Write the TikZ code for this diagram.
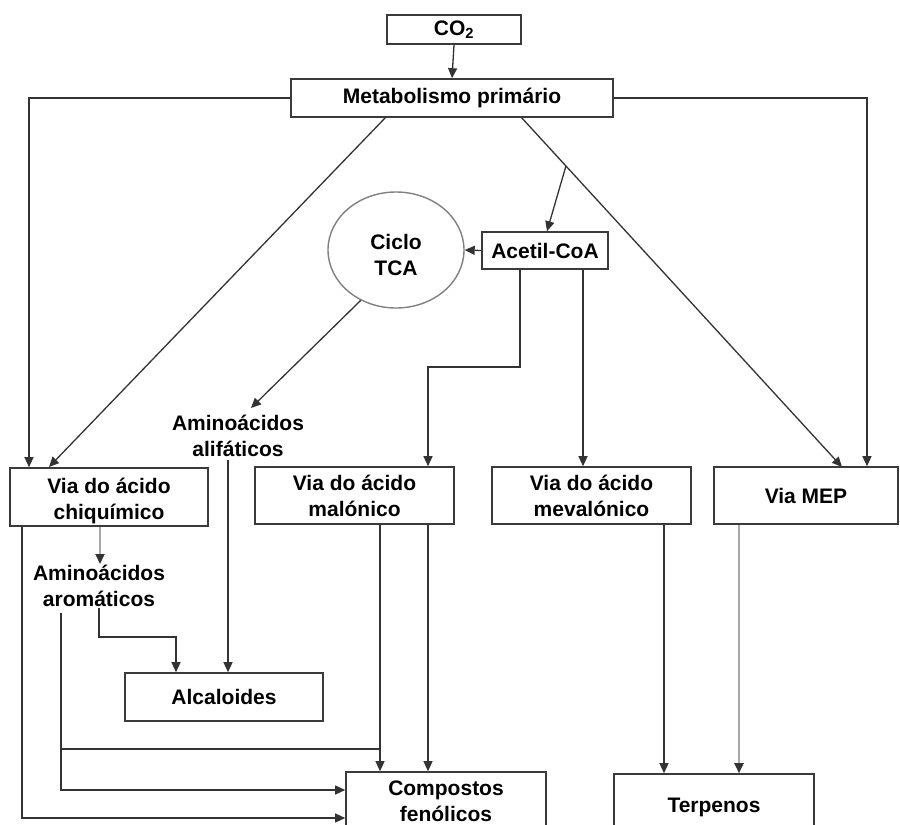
\documentclass[tikz,border=0pt]{standalone}
\usepackage{fontspec}
\setmainfont{Liberation Sans}
\usetikzlibrary{arrows.meta,calc,shapes.geometric}
\definecolor{linec}{HTML}{333333}
\definecolor{boxc}{HTML}{3A3A3A}
\definecolor{greyc}{HTML}{A8A8A8}
\newcommand\dgfont{\fontsize{21}{26}\selectfont\bfseries}
\begin{document}
\begin{tikzpicture}[x=1pt,y=-1pt,
  ln/.style={draw=linec, line width=1.3pt},
  arr/.style={ln, -{Triangle[length=10pt,width=9pt]}},
  garr/.style={draw=greyc, line width=2pt, -{Triangle[length=10pt,width=9pt,color=linec]}},
  box/.style={draw=boxc, line width=1.6pt, fill=white, inner sep=0pt, align=center, font=\dgfont},
  txt/.style={inner sep=0pt, align=center, font=\dgfont}]
\clip (0,0) rectangle (900,825);
\fill[white] (0,0) rectangle (900,825);
% nodes
\node[box, minimum width=134pt, minimum height=29pt] (co2) at (454,29.5) {CO\textsubscript{2}};
\node[box, minimum width=322pt, minimum height=38pt] (met) at (452,98) {Metabolismo primário};
\node[box, minimum width=126pt, minimum height=37pt] (acetil) at (545,250.5) {Acetil-CoA};
\node[ellipse, draw=gray, line width=1.4pt, minimum width=136pt, minimum height=116pt, inner sep=0pt] (tca) at (396,250) {};
\node[txt] (tcat) at (396,255) {Ciclo\\TCA};
\node[box, minimum width=198pt, minimum height=58pt] (chiq) at (109,497) {};
\node[txt] (chiqt) at (109,501) {Via do ácido\\chiquímico};
\node[box, minimum width=199pt, minimum height=57pt] (malo) at (354.5,495.5) {Via do ácido\\malónico};
\node[box, minimum width=199pt, minimum height=57pt] (meva) at (591.5,495.5) {Via do ácido\\mevalónico};
\node[box, minimum width=184pt, minimum height=57pt] (mep) at (806,495.5) {Via MEP};
\node[txt] (alif) at (238,436) {Aminoácidos\\alifáticos};
\node[txt] (arom) at (99,586) {Aminoácidos\\aromáticos};
\node[box, minimum width=198pt, minimum height=48pt] (alca) at (224,697) {Alcaloides};
\node[box, minimum width=200pt, minimum height=58pt] (comp) at (446,801) {Compostos\\fenólicos};
\node[box, minimum width=200pt, minimum height=66pt] (terp) at (714,807) {Terpenos};
% connectors
\draw[arr] (co2.south) -- (met.north);
\draw[arr] (met.west) -| (29,0 |- chiq.north);
\draw[arr] (met.east) -| (867,0 |- mep.north);
\coordinate (dl1) at (386,117);
\coordinate (dl2) at (49,467);
\draw[arr] (dl1) -- (dl2);
\coordinate (dr1) at (521,117);
\coordinate (dr2) at (842,467);
\draw[arr] (dr1) -- (dr2);
\draw[arr] ($(dr1)!0.14!(dr2)$) -- ($(acetil.north)+(2,0)$);
\draw[arr] (acetil.west) -- (tca.east);
\draw[arr] (520,0 |- acetil.south) -- (520,367) -- (428,367) -- (428,0 |- malo.north);
\draw[arr] (583,0 |- acetil.south) -- (583,0 |- meva.north);
\draw[arr] (tca.-125) -- (251,408);
\draw[arr] (228,460) -- (228,0 |- alca.north);
\draw[garr] (100,0 |- chiq.south) -- (100,564);
\draw[arr] (22,0 |- chiq.south) |- (comp.west |- 0,818);
\draw[arr] (99,608) -- (99,637) -| (176,0 |- alca.north);
\draw[arr] (61,613) |- (comp.west |- 0,790);
\draw[ln] (61,749) -- (380,749);
\draw[arr] (380,0 |- malo.south) -- (380,0 |- comp.north);
\draw[arr] (428,0 |- malo.south) -- (428,0 |- comp.north);
\draw[arr] (664,0 |- meva.south) -- (664,0 |- terp.north);
\draw[garr] (739,0 |- mep.south) -- (739,0 |- terp.north);
\end{tikzpicture}
\end{document}
